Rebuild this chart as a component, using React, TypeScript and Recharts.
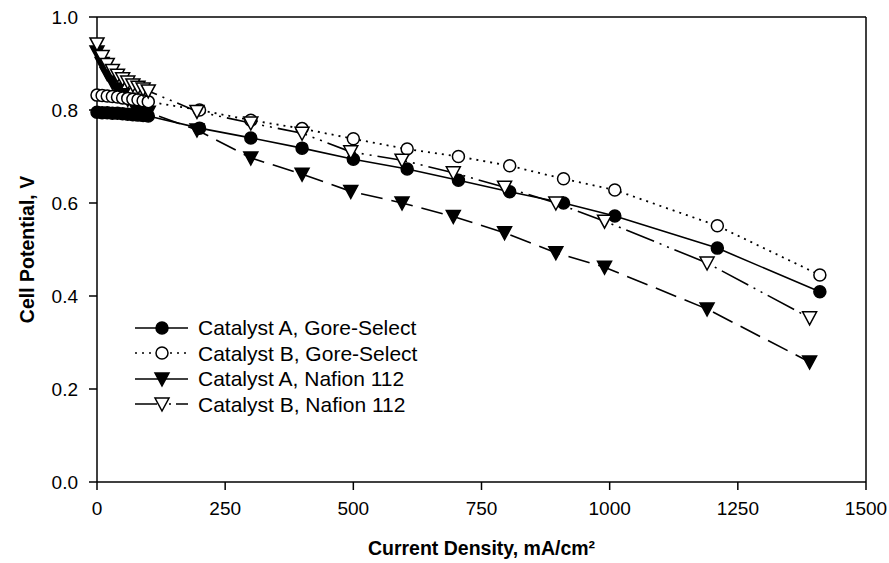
import React from 'react';
import { LineChart, Line, XAxis, YAxis, ReferenceLine } from 'recharts';

const xTicks = [0, 250, 500, 750, 1000, 1250, 1500];
const yTicks = [0, 0.2, 0.4, 0.6, 0.8, 1.0];

// Catalyst A, Gore-Select
const aGoreX = [0, 10, 20, 30, 40, 50, 60, 70, 80, 90, 100, 200, 300, 400, 500, 605, 705, 805, 910, 1010, 1210, 1410];
const aGoreY = [0.795, 0.794, 0.794, 0.793, 0.793, 0.792, 0.791, 0.79, 0.789, 0.788, 0.787, 0.761, 0.74, 0.718, 0.694, 0.673, 0.649, 0.624, 0.6, 0.572, 0.503, 0.409];

// Catalyst B, Gore-Select
const bGoreX = [0, 10, 20, 30, 40, 50, 60, 70, 80, 90, 100, 200, 300, 400, 500, 605, 705, 805, 910, 1010, 1210, 1410];
const bGoreY = [0.832, 0.831, 0.83, 0.829, 0.828, 0.826, 0.825, 0.823, 0.822, 0.82, 0.818, 0.8, 0.778, 0.76, 0.738, 0.716, 0.7, 0.68, 0.652, 0.628, 0.551, 0.445];

// Catalyst A, Nafion 112
const aNafX = [0, 10, 20, 30, 40, 50, 60, 70, 80, 90, 100, 195, 300, 400, 495, 595, 695, 795, 895, 990, 1190, 1390];
const aNafY = [0.925, 0.9, 0.878, 0.86, 0.845, 0.833, 0.823, 0.814, 0.806, 0.8, 0.795, 0.757, 0.697, 0.662, 0.625, 0.6, 0.571, 0.536, 0.493, 0.462, 0.372, 0.258];

// Catalyst B, Nafion 112
const bNafX = [0, 10, 20, 30, 40, 50, 60, 70, 80, 90, 100, 195, 300, 400, 495, 595, 695, 795, 895, 990, 1190, 1390];
const bNafY = [0.942, 0.915, 0.898, 0.885, 0.875, 0.867, 0.86, 0.854, 0.849, 0.845, 0.841, 0.797, 0.772, 0.75, 0.71, 0.692, 0.665, 0.634, 0.6, 0.561, 0.471, 0.353];

const seriesNames = [
  'Catalyst A, Gore-Select',
  'Catalyst B, Gore-Select',
  'Catalyst A, Nafion 112',
  'Catalyst B, Nafion 112',
];

const toPoints = (xs: number[], ys: number[]) => xs.map((x, i) => ({ x, y: ys[i] }));

const FONT = '"Liberation Sans", Arial, Helvetica, sans-serif';

type Shape = 'circle' | 'triangle';

const Marker = ({ cx, cy, shape, filled }: { cx: number; cy: number; shape: Shape; filled: boolean }) => {
  const fill = filled ? '#000' : '#fff';
  if (shape === 'circle') {
    return <circle cx={cx} cy={cy} r={6} fill={fill} stroke="#000" strokeWidth={1.5} />;
  }
  const pts = `${cx - 7},${cy - 6} ${cx + 7},${cy - 6} ${cx},${cy + 7}`;
  return <polygon points={pts} fill={fill} stroke="#000" strokeWidth={1.5} strokeLinejoin="miter" />;
};

const dotRenderer = (shape: Shape, filled: boolean) => (props: any) => {
  const { cx, cy, index } = props;
  if (cx == null || cy == null) return <g key={`d-${index}`} />;
  return (
    <g key={`d-${shape}-${filled}-${index}`}>
      <Marker cx={cx} cy={cy} shape={shape} filled={filled} />
    </g>
  );
};

const styles = [
  { name: seriesNames[0], shape: 'circle' as Shape, filled: true, dash: undefined as string | undefined },
  { name: seriesNames[1], shape: 'circle' as Shape, filled: false, dash: '2 5' },
  { name: seriesNames[2], shape: 'triangle' as Shape, filled: true, dash: undefined },
  { name: seriesNames[3], shape: 'triangle' as Shape, filled: false, dash: '22 5 2 5 2 5' },
];

const LegendBox = () => (
  <div style={{ position: 'absolute', left: 133, top: 315, fontFamily: FONT, fontSize: 21, color: '#000' }}>
    {styles.map((s) => (
      <div key={s.name} style={{ display: 'flex', alignItems: 'center', height: 25.5 }}>
        <svg width={58} height={20} style={{ display: 'block' }}>
          <line x1={2} y1={10} x2={55} y2={10} stroke="#000" strokeWidth={1.6} strokeDasharray={s.dash} />
          <Marker cx={29} cy={10} shape={s.shape} filled={s.filled} />
        </svg>
        <span style={{ marginLeft: 7, lineHeight: '25px' }}>{s.name}</span>
      </div>
    ))}
  </div>
);

const YLabel = (props: any) => {
  const vb = props.viewBox || { x: 0, y: 17, width: 97, height: 465 };
  const x = vb.x + 27;
  const y = vb.y + vb.height / 2;
  return (
    <text x={x} y={y} transform={`rotate(-90 ${x} ${y})`} textAnchor="middle" dominantBaseline="central"
      style={{ fontFamily: FONT, fontSize: 19.5, fontWeight: 'bold', fill: '#000' }}>
      Cell Potential, V
    </text>
  );
};

const XLabel = (props: any) => {
  const vb = props.viewBox || { x: 97, y: 482, width: 769, height: 81 };
  const x = vb.x + vb.width / 2;
  const y = vb.y + 66;
  return (
    <text x={x} y={y} textAnchor="middle" dominantBaseline="central"
      style={{ fontFamily: FONT, fontSize: 19.5, fontWeight: 'bold', fill: '#000' }}>
      Current Density, mA/cm²
    </text>
  );
};

export default function App() {
  const tickStyle = { fontFamily: FONT, fontSize: 19, fill: '#000' };
  return (
    <div style={{ position: 'absolute', left: 0, top: 0, width: 889, height: 563, background: '#fff' }}>
      <LineChart width={889} height={563} margin={{ top: 17, right: 23, left: 0, bottom: 0 }}>
        <XAxis
          type="number"
          dataKey="x"
          domain={[0, 1500]}
          ticks={xTicks}
          tick={tickStyle}
          tickSize={8}
          tickMargin={12}
          height={81}
          stroke="#000"
          strokeWidth={1.5}
          allowDuplicatedCategory={false}
          label={<XLabel />}
        />
        <YAxis
          type="number"
          dataKey="y"
          domain={[0, 1]}
          ticks={yTicks}
          tickFormatter={(v: number) => v.toFixed(1)}
          tick={tickStyle}
          tickSize={8}
          tickMargin={11}
          width={97}
          stroke="#000"
          strokeWidth={1.5}
          label={<YLabel />}
        />
        <ReferenceLine y={1} stroke="#000" strokeWidth={1.5} />
        <ReferenceLine x={1500} stroke="#000" strokeWidth={1.5} />
        <Line data={toPoints(aGoreX, aGoreY)} dataKey="y" name={seriesNames[0]} stroke="#000" strokeWidth={1.6}
          dot={dotRenderer('circle', true)} activeDot={false} isAnimationActive={false} />
        <Line data={toPoints(aNafX, aNafY)} dataKey="y" name={seriesNames[2]} stroke="#000" strokeWidth={1.6}
          strokeDasharray="22 9" dot={dotRenderer('triangle', true)} activeDot={false} isAnimationActive={false} />
        <Line data={toPoints(bGoreX, bGoreY)} dataKey="y" name={seriesNames[1]} stroke="#000" strokeWidth={1.8}
          strokeDasharray="2 5" dot={dotRenderer('circle', false)} activeDot={false} isAnimationActive={false} />
        <Line data={toPoints(bNafX, bNafY)} dataKey="y" name={seriesNames[3]} stroke="#000" strokeWidth={1.6}
          strokeDasharray="30 6 2 6 2 6" dot={dotRenderer('triangle', false)} activeDot={false} isAnimationActive={false} />
      </LineChart>
      <LegendBox />
    </div>
  );
}
